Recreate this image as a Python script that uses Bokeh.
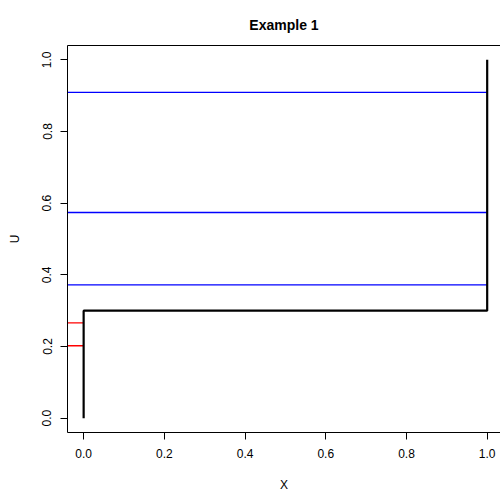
from bokeh.plotting import figure
from bokeh.models import FixedTicker, LinearAxis, Range1d, Title
from bokeh.embed import file_html
from bokeh.resources import INLINE

# ---- data ----
step_x = [0.0, 0.0, 1.0, 1.0]
step_y = [0.0, 0.3, 0.3, 1.0]
red_u = [0.202, 0.266]
red_x_end = 0.0
blue_u = [0.909, 0.574, 0.372]
blue_x_end = 1.0
ticks = [0.0, 0.2, 0.4, 0.6, 0.8, 1.0]
tick_labels = ["0.0", "0.2", "0.4", "0.6", "0.8", "1.0"]
title_text = "Example 1"

X_START, X_END = -0.04, 1.033
Y_START, Y_END = -0.04, 1.04
FONT = "Liberation Sans"

p = figure(width=500, height=494, output_backend="svg", toolbar_location=None,
           x_range=Range1d(X_START, X_END), y_range=Range1d(Y_START, Y_END),
           min_border_left=67, min_border_right=0, min_border_top=45, min_border_bottom=60)
p.outline_line_color = None
p.background_fill_color = "white"
p.border_fill_color = "white"
p.xgrid.visible = False
p.ygrid.visible = False

# lines
p.segment(x0=[X_START] * len(blue_u), y0=blue_u, x1=[blue_x_end] * len(blue_u), y1=blue_u,
          line_color="#0000FF", line_width=1.3)
p.segment(x0=[X_START] * len(red_u), y0=red_u, x1=[red_x_end] * len(red_u), y1=red_u,
          line_color="#FF0000", line_width=1.4)
p.line(step_x, step_y, line_color="black", line_width=2.2)

# axes
for ax in (p.xaxis[0], p.yaxis[0]):
    ax.ticker = FixedTicker(ticks=ticks)
    ax.major_label_overrides = {t: l for t, l in zip(ticks, tick_labels)}
    ax.minor_tick_line_color = None
    ax.major_tick_in = 0
    ax.major_tick_out = 7
    ax.major_tick_line_color = "black"
    ax.axis_line_color = "black"
    ax.axis_line_width = 1
    ax.major_label_text_font = FONT
    ax.major_label_text_font_size = "12px"
    ax.major_label_text_color = "black"
    ax.axis_label_text_font = FONT
    ax.axis_label_text_font_size = "12px"
    ax.axis_label_text_font_style = "normal"
    ax.axis_label_text_color = "black"

p.xaxis[0].axis_label = "X"
p.xaxis[0].major_label_standoff = 9
p.xaxis[0].axis_label_standoff = 17
p.yaxis[0].axis_label = "U"
p.yaxis[0].major_label_orientation = "vertical"
p.yaxis[0].major_label_standoff = 9
p.yaxis[0].axis_label_standoff = 18

top = LinearAxis(ticker=FixedTicker(ticks=[]), major_tick_out=0, major_tick_in=0,
                 minor_tick_out=0, minor_tick_in=0, major_label_standoff=0,
                 axis_line_color="black",
                 major_tick_line_color=None, minor_tick_line_color=None)
p.add_layout(top, "above")

p.title = Title(text=title_text, align="center", text_font=FONT, text_font_size="14px",
                text_font_style="bold", text_color="black", standoff=26)

open("out.html", "w").write(file_html(p, INLINE))
